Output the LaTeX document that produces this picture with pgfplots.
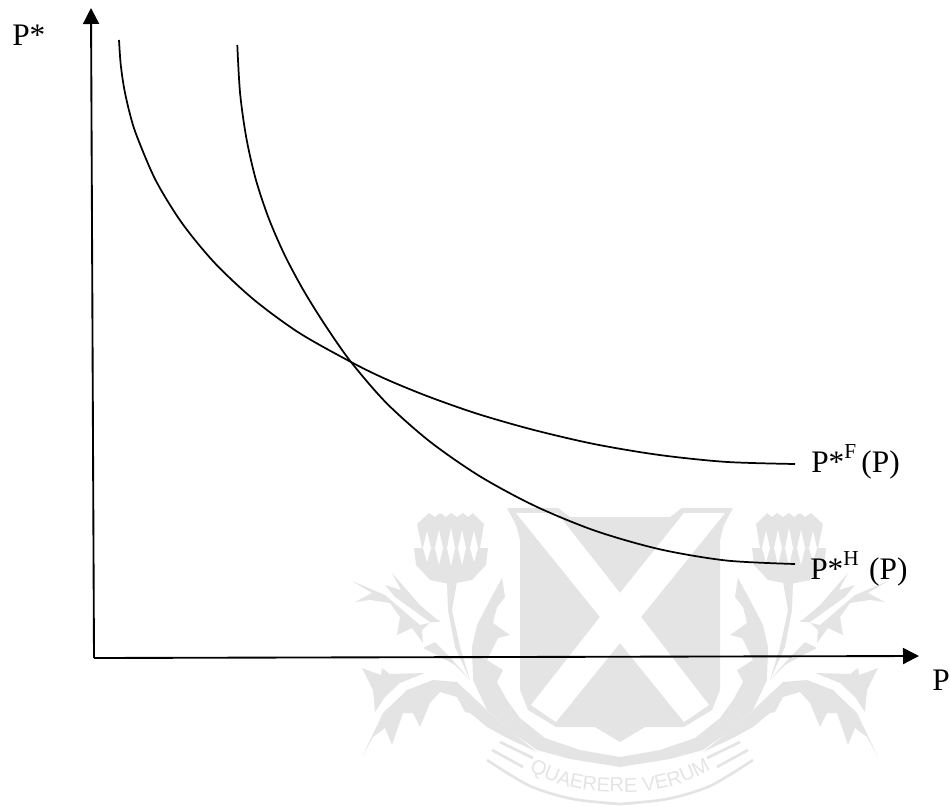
\documentclass[border=0pt]{standalone}
\usepackage{fontspec}
\setmainfont{Liberation Serif}
\newfontfamily\crestfont{Liberation Sans}
\usepackage{pgfplots}
\usepackage{pgfplotstable}
\pgfplotsset{compat=1.18}
\usetikzlibrary{arrows.meta,decorations.text}
\definecolor{wm}{HTML}{E4E4E4}
\newcommand{\lab}{\fontsize{23.5}{26}\selectfont}
\newcommand{\supr}[1]{\raisebox{10.5pt}{\fontsize{16}{18}\selectfont #1}}
\pgfplotstableread{
x y
417 524
429 513
435 517
440 513
446 517
451 513
457 517
463 513
468 517
473 513
484 524
480 548
488 548
486 565
472 580
450 584
430 580
416 565
414 548
422 548
}\thistlehead
\pgfplotstableread{
x y
423 548
427 531
431 548
435 548
439 530
443 548
447 548
451 528
455 548
458 548
462 530
466 548
470 548
474 531
478 548
474 562
470 548
466 548
462 565
458 548
455 548
451 566
447 548
443 548
439 565
435 548
431 548
427 562
}\thistleteeth
\pgfplotstableread{
x y
447 582
457 582
452 610
460 647
470 680
455 647
448 610
}\stem
\pgfplotstableread{
x y
502 578
505 597
497 607
493 623
510 635
498 638
487 660
503 670
497 682
507 700
520 718
545 738
580 750
620 757
620 767
570 759
537 750
513 733
487 710
473 680
472 647
477 625
490 600
}\ringhalf
\pgfplotstableread{
x y
352 581
385 595
420 625
442 620
433 620
422 630
423 643
412 628
397 635
400 617
390 603
370 600
355 602
372 593
}\leafa
\pgfplotstableread{
x y
392 573
420 605
440 622
430 622
395 597
385 585
401 590
}\spike
\pgfplotstableread{
x y
423 648
435 642
450 657
470 680
455 665
437 655
}\leafc
\pgfplotstableread{
x y
362 668
381 675
382 668
390 674
425 673
400 683
385 697
375 712
373 690
}\leafd
\pgfplotstableread{
x y
362 757
383 713
407 690
433 680
457 682
473 697
490 713
513 733
537 752
507 738
487 727
470 713
465 712
457 697
440 692
430 703
420 727
413 713
403 713
392 745
385 728
373 737
}\leafe
\pgfplotstableread{
x y
500 742
533 758
}\stripea
\pgfplotstableread{
x y
492 750
523 767
}\stripeb
\pgfplotstableread{
x y
487 760
530 786
573 799
620 804
}\stripec
\begin{document}
\begin{tikzpicture}
\begin{axis}[
    scale only axis,
    width=712.5pt, height=605.25pt,
    xmin=0, xmax=950, ymin=0, ymax=807,
    y dir=reverse,
    axis lines=none,
    clip=false,
]
\path (rel axis cs:0,0) rectangle (rel axis cs:1,1);
% crest behind the chart, mirrored about x=620
\addplot[fill=wm, draw=none] coordinates {(520,540) (520,690) (528,710) (556,727) (595,727) (620,742) (645,727) (684,727) (712,710) (720,690) (720,540) (724,525) (733,508) (682,508) (670,517) (570,517) (558,508) (507,508) (516,525)} -- cycle;
\addplot[fill=white, draw=none] coordinates {(516,513) (557,513) (620,593) (684,513) (725,513) (641,617) (709,705) (684,722) (620,643) (556,722) (531,705) (600,617)} -- cycle;
\pgfplotsinvokeforeach{1,-1}{
  \addplot[fill=wm, draw=none] table[x expr={620+#1*(\thisrow{x}-620)}, y=y] {\thistlehead} -- cycle;
  \addplot[fill=white, draw=none] table[x expr={620+#1*(\thisrow{x}-620)}, y=y] {\thistleteeth} -- cycle;
  \addplot[fill=wm, draw=none] table[x expr={620+#1*(\thisrow{x}-620)}, y=y] {\stem} -- cycle;
  \addplot[fill=wm, draw=none] table[x expr={620+#1*(\thisrow{x}-620)}, y=y] {\ringhalf} -- cycle;
  \addplot[fill=wm, draw=none] table[x expr={620+#1*(\thisrow{x}-620)}, y=y] {\leafa} -- cycle;
  \addplot[fill=wm, draw=none] table[x expr={620+#1*(\thisrow{x}-620)}, y=y] {\spike} -- cycle;
  \addplot[fill=wm, draw=none] table[x expr={620+#1*(\thisrow{x}-620)}, y=y] {\leafc} -- cycle;
  \addplot[fill=wm, draw=none] table[x expr={620+#1*(\thisrow{x}-620)}, y=y] {\leafd} -- cycle;
  \addplot[fill=wm, draw=none] table[x expr={620+#1*(\thisrow{x}-620)}, y=y] {\leafe} -- cycle;
  \addplot[wm, line width=2pt] table[x expr={620+#1*(\thisrow{x}-620)}, y=y] {\stripea};
  \addplot[wm, line width=2pt] table[x expr={620+#1*(\thisrow{x}-620)}, y=y] {\stripeb};
  \addplot[wm, line width=2pt, smooth] table[x expr={620+#1*(\thisrow{x}-620)}, y=y] {\stripec};
}
\path[decorate, decoration={text along path, text align=center, text color=wm,
    text={|\crestfont\fontsize{15}{17}\selectfont|QUAERERE VERUM}}]
    (axis cs:530,771) .. controls (axis cs:565,790) and (axis cs:590,792) .. (axis cs:620,792)
    .. controls (axis cs:650,792) and (axis cs:675,790) .. (axis cs:710,770);

% axes
\addplot[black, line width=1.4pt, -{Triangle[length=12pt,width=12pt]}] coordinates {(94,658) (91,8)};
\addplot[black, line width=1.4pt, -{Triangle[length=12pt,width=12pt]}] coordinates {(94,658) (919,656)};

% curves
\addplot[black, line width=1.3pt, smooth] coordinates {
    (119,40) (120.7,64.2) (124.1,88.2) (129.4,111.9) (136.4,135) (155.6,180.1) (181.75,222.75)
    (214.5,262.7) (253.8,299.6) (299.2,332.9) (351,362) (385.2,378.8) (427.7,396.3) (477.4,413.8)
    (533,429.75) (594,444) (658.8,454.9) (726,461.9) (795,464)
};
\addplot[black, line width=1.3pt, smooth] coordinates {
    (237.3,45) (240.1,93.4) (246.3,137.8) (255.7,179.1) (268.5,217.75) (284.5,254.7) (303.6,290.5)
    (325.8,326.1) (351,362) (386.6,403.2) (429.8,441.5) (479.6,476.1) (535,506) (595.3,530.8)
    (659.5,549.2) (726.2,560.5) (795,564)
};

% labels
\node[anchor=base west, inner sep=0pt, font=\lab] at (axis cs:12,45) {P*};
\node[anchor=base west, inner sep=0pt, font=\lab] at (axis cs:811,472) {P*\supr{F}\,(P)};
\node[anchor=base west, inner sep=0pt, font=\lab] at (axis cs:810,579) {P*\supr{H}\,\,(P)};
\node[anchor=base west, inner sep=0pt, font=\lab] at (axis cs:932,690) {P};
\end{axis}
\end{tikzpicture}
\end{document}
